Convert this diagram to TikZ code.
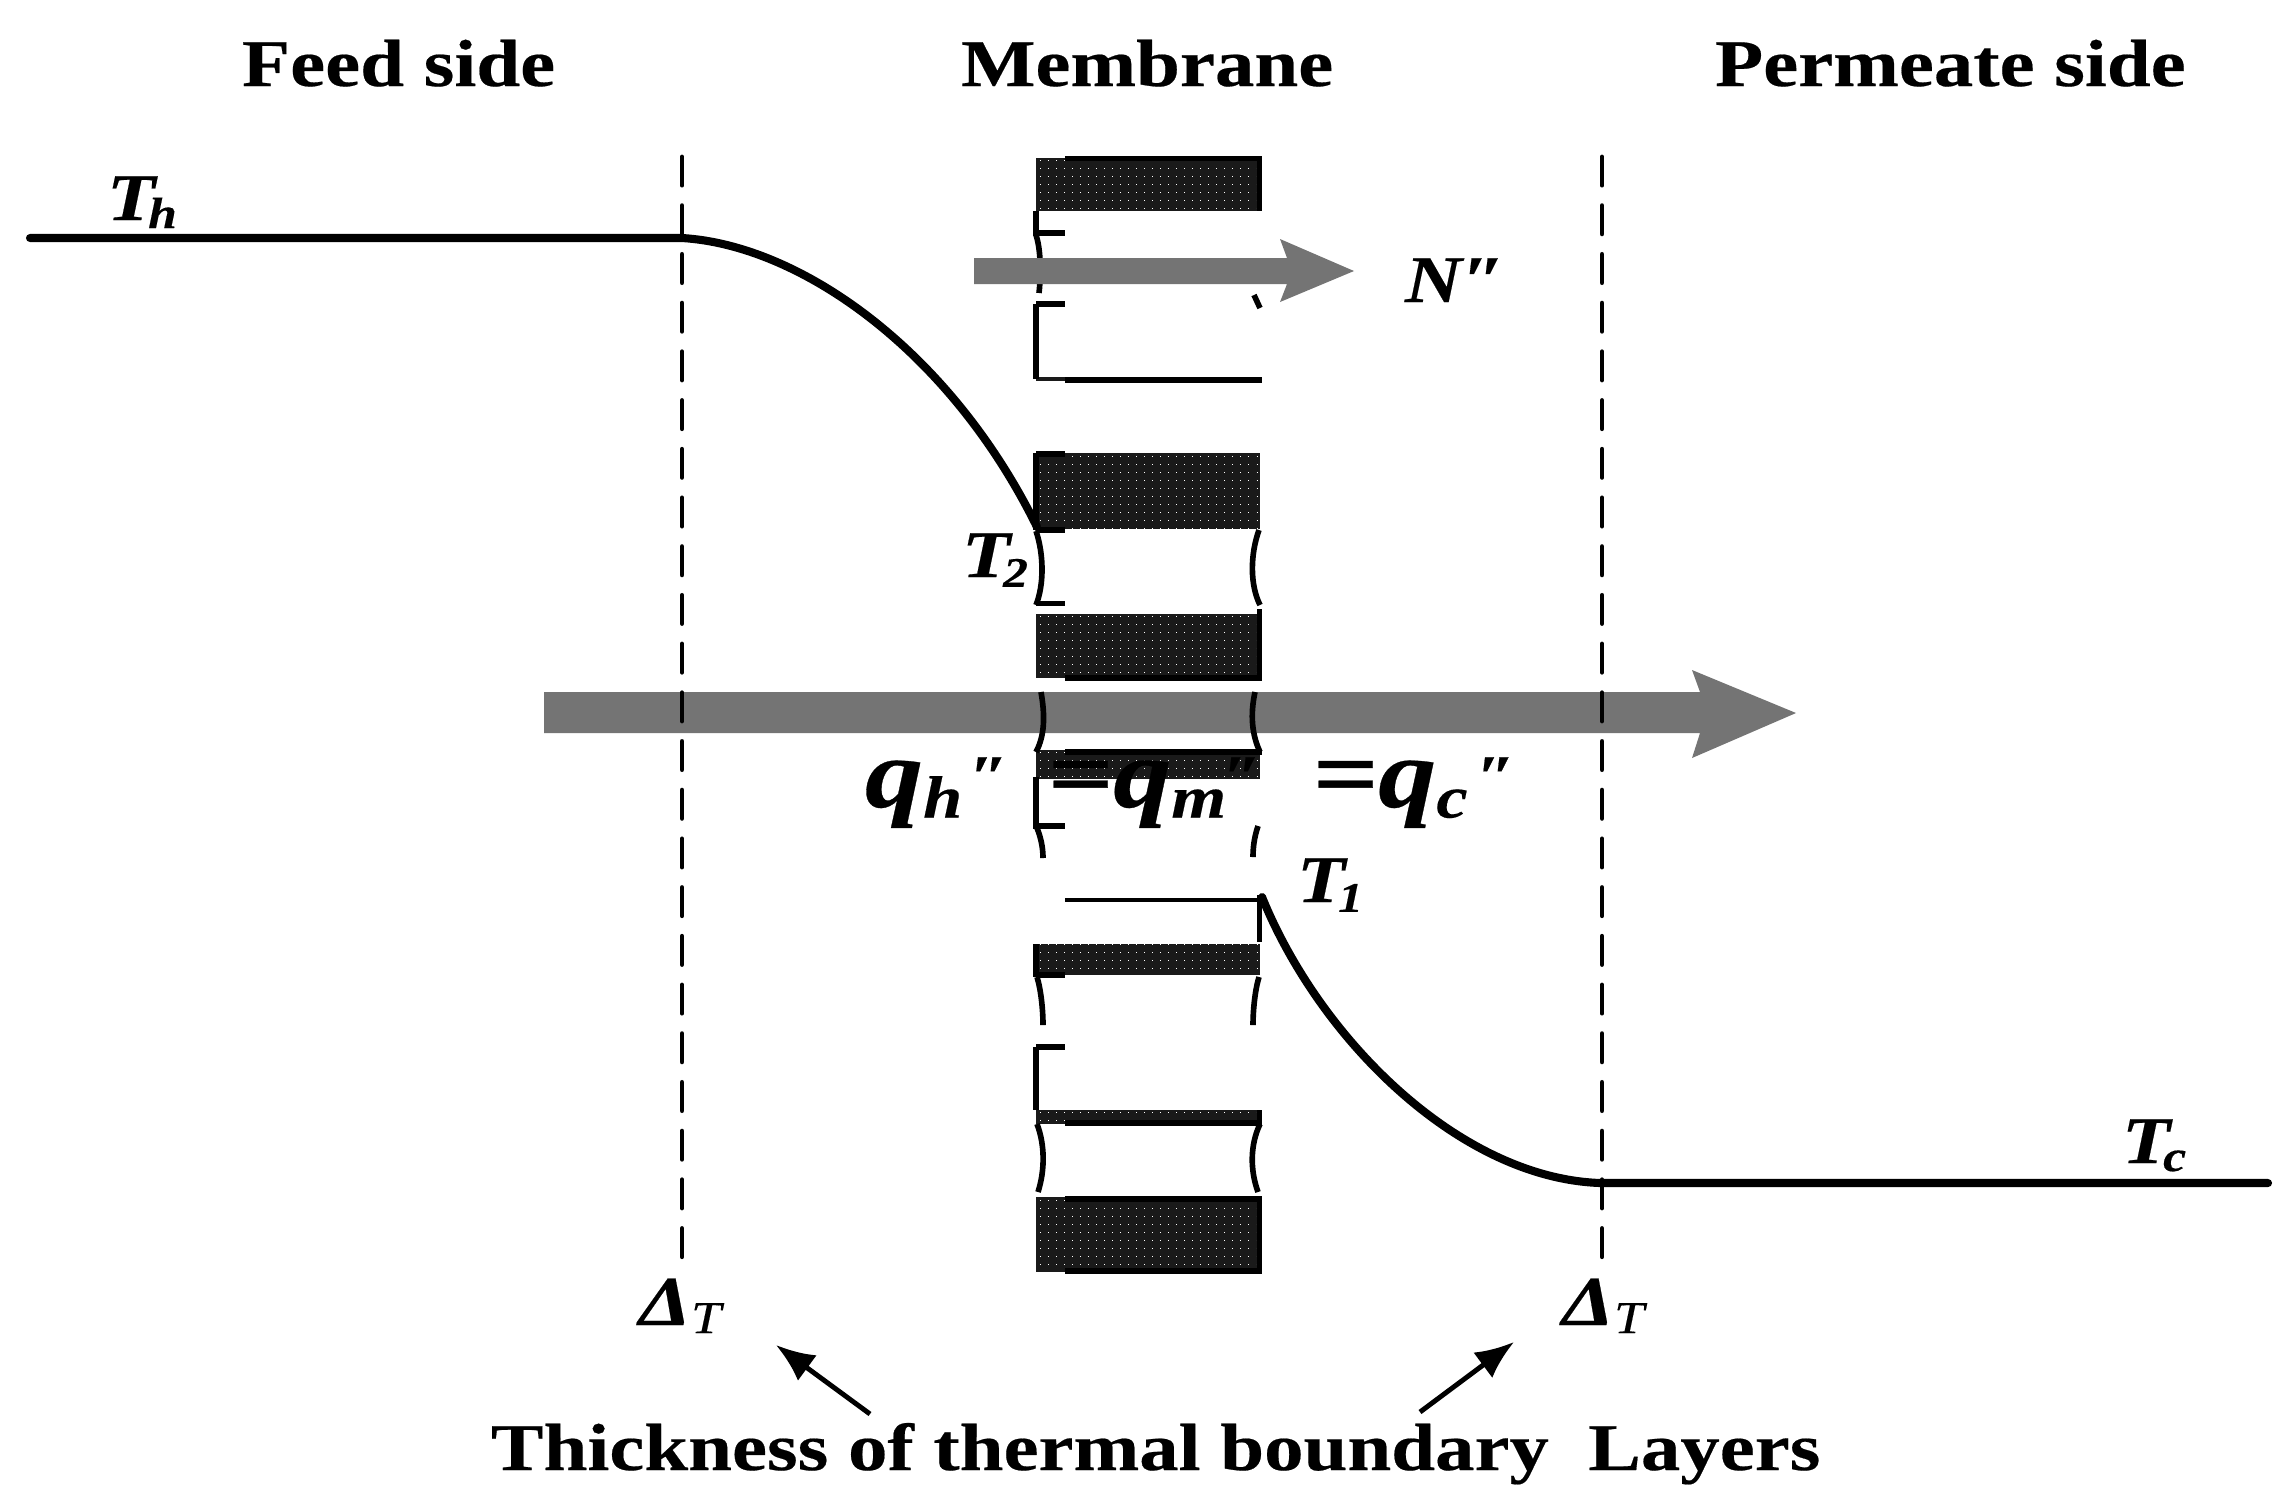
\documentclass[tikz,border=0pt]{standalone}
\usepackage{fontspec}
\setmainfont{Liberation Serif}[FakeStretch=1.18,FakeBold=0.3]
\usetikzlibrary{arrows.meta}
\definecolor{blk}{HTML}{1A1A1A}
\definecolor{arrowgray}{HTML}{747474}
\tikzset{
  x=0.01cm,y=-0.01cm,
  lbl/.style={inner sep=0pt,outer sep=0pt,anchor=base west,text=black},
  head/.style={lbl,font=\fontsize{19}{19}\selectfont\bfseries},
  sym/.style={lbl,font=\fontsize{19}{19}\selectfont\bfseries\itshape},
  flux/.style={lbl,font=\fontsize{28}{28}\selectfont\bfseries\itshape},
  edge/.style={line width=1.6pt,black},
  thin edge/.style={line width=1pt,black},
  profile/.style={line width=2.3pt,black,line cap=round},
  bound/.style={line width=1.4pt,black,line cap=round,dash pattern=on 8pt off 5.85pt},
  leader/.style={line width=1.4pt,black,-{Latex[length=11pt,width=9pt]}},
  grayfill/.style={fill=arrowgray,draw=none},
}
\newcommand{\sbs}[3]{\raisebox{-#1pt}{\fontsize{#2}{#2}\selectfont #3}}
\newcommand{\dpr}[1]{\hspace{#1pt}\raisebox{3pt}{\fontsize{17}{17}\selectfont ″}}
\begin{document}
\begin{tikzpicture}
\useasboundingbox (0,0) rectangle (2291,1490);
\fill[white] (0,0) rectangle (2291,1490);

% membrane solid blocks
\fill[blk] (1036,158) rectangle (1260,211);
\fill[blk] (1036,453) rectangle (1260,529);
\fill[blk] (1036,614) rectangle (1260,678);
\fill[blk] (1036,750) rectangle (1260,779);
\fill[blk] (1036,944) rectangle (1260,975);
\fill[blk] (1036,1110) rectangle (1260,1124);
\fill[blk] (1036,1197) rectangle (1260,1272);
\fill[blk] (1036,377) rectangle (1260,381);
\begin{scope}
\clip (1036,158) rectangle (1260,211) (1036,453) rectangle (1260,529)
      (1036,614) rectangle (1260,678) (1036,750) rectangle (1260,779)
      (1036,944) rectangle (1260,975) (1036,1110) rectangle (1260,1124)
      (1036,1197) rectangle (1260,1272);
\foreach \yy in {160,168,...,1272}
  \draw[white,line width=0.25pt,dash pattern=on 0.25pt off 2.03pt] (1040,\yy) -- (1260,\yy);
\end{scope}

% heat flux arrow (under the pore outlines)
\fill[grayfill] (544,692) -- (1700,692) -- (1692,670) -- (1796,713) -- (1692,758) -- (1700,733) -- (544,733) -- cycle;

% black outlines of the blocks
\draw[edge] (1065,158.5) -- (1259.5,158.5) -- (1259.5,211);
\draw[edge] (1065,678) -- (1262,678);
\draw[edge] (1259.5,609) -- (1259.5,678);
\draw[edge] (1036,454) -- (1065,454);
\draw[edge] (1036,453) -- (1036,530);
\draw[edge] (1036,530) -- (1065,530);
\draw[edge] (1065,752) -- (1262,752);
\draw[edge] (1036,944) -- (1036,977);
\draw[edge] (1036,975) -- (1065,975);
\draw[edge] (1065,1123) -- (1262,1123);
\draw[edge] (1259.5,1110) -- (1259.5,1125);
\draw[edge] (1065,1199) -- (1259.5,1199) -- (1259.5,1271) -- (1065,1271);
\draw[edge] (1065,380) -- (1262,380);

% pore brackets and curved walls
\draw[edge] (1036,211) -- (1036,233) -- (1065,233);
\draw[edge] (1036,304) -- (1065,304);
\draw[edge] (1036,304) -- (1036,379);
\draw[edge] (1036,235) .. controls (1041,250) and (1041,275) .. (1039,293);
\draw[edge] (1254,295) -- (1260,308);
\draw[edge] (1036,531) .. controls (1044,555) and (1044,585) .. (1036,605);
\draw[edge] (1036,603.5) -- (1065,603.5);
\draw[edge] (1259,530) .. controls (1250,555) and (1250,585) .. (1260,605);
\draw[edge] (1041,692) .. controls (1045,715) and (1045,735) .. (1036,752);
\draw[edge] (1255,692) .. controls (1250,715) and (1252,735) .. (1260,752);
\draw[edge] (1036,777) -- (1036,826) -- (1065,826);
\draw[edge] (1037,828) .. controls (1041,838) and (1043,848) .. (1043,858);
\draw[edge] (1258,826) .. controls (1254,838) and (1253,848) .. (1253,857);
\draw[thin edge] (1065,900) -- (1260,900);
\draw[edge] (1259.5,895) -- (1259.5,942);
\draw[edge] (1037,977) .. controls (1041,990) and (1043,1010) .. (1043,1025);
\draw[edge] (1259,977) .. controls (1255,990) and (1253,1010) .. (1253,1025);
\draw[edge] (1036,1047) -- (1065,1047);
\draw[edge] (1036,1047) -- (1036,1110);
\draw[edge] (1037,1124) .. controls (1045,1145) and (1045,1170) .. (1038,1192);
\draw[edge] (1260,1124) .. controls (1250,1145) and (1250,1170) .. (1258,1192);

% vapour flux arrow
\fill[grayfill] (974,258) -- (1287,258) -- (1280,239) -- (1354,271) -- (1280,302) -- (1287,284) -- (974,284) -- cycle;

% boundary layers
\coordinate (bl1t) at (682,157);
\coordinate (bl1b) at (682,1276);
\coordinate (bl2t) at (1602,157);
\coordinate (bl2b) at (1602,1276);
\draw[bound] (bl1t) -- (bl1b);
\draw[bound] (bl2t) -- (bl2b);

% temperature profile
\coordinate (hotstart) at (30,238);
\coordinate (hotknee) at (682,238);
\coordinate (t2pt) at (1037,527);
\coordinate (t1pt) at (1262,897);
\coordinate (coldknee) at (1600,1183);
\coordinate (coldend) at (2268,1183);
\draw[profile] (hotstart) -- (hotknee) .. controls (800,245) and (950,350) .. (t2pt);
\draw[profile] (t1pt) .. controls (1320,1040) and (1460,1178) .. (coldknee) -- (coldend);

% labels
\node[head] (feed) at (242,86) {Feed side};
\node[head] (memb) at (961,86) {Membrane};
\node[head] (perm) at (1715,86) {Permeate side};
\node[sym] (th) at (107,220) {T\kern-2pt\sbs{2.3}{12.5}{h}};
\node[sym] (t2) at (962,577) {T\kern-2pt\sbs{2.8}{12}{2}};
\node[sym] (t1) at (1297,902) {T\kern-2pt\sbs{2.8}{12}{1}};
\node[sym] (tc) at (2122,1163) {T\kern-2pt\sbs{2.3}{12.5}{c}};
\node[sym] (nflux) at (1405,302) {N″};
\node[flux] (qh) at (865,807) {q\sbs{3}{17}{h}\dpr{2}};
\node[flux] (qm) at (1047,807) {=q\sbs{3}{17}{m}\dpr{-1}};
\node[flux] (qc) at (1312,807) {=q\sbs{3}{17}{c}\dpr{2.5}};
\node[lbl,font=\fontsize{20}{20}\selectfont\bfseries\itshape] (d1) at (639,1325) {Δ\sbs{2.3}{13}{\mdseries T}};
\node[lbl,font=\fontsize{20}{20}\selectfont\bfseries\itshape] (d2) at (1562,1325) {Δ\sbs{2.3}{13}{\mdseries T}};
\node[head] (thick) at (491,1470) {Thickness of thermal boundary\ \ Layers};

% leaders
\coordinate (lt1) at (870,1414);
\coordinate (lh1) at (776,1345);
\coordinate (lt2) at (1420,1412);
\coordinate (lh2) at (1514,1342);
\draw[leader] (lt1) -- (lh1);
\draw[leader] (lt2) -- (lh2);
\end{tikzpicture}
\end{document}
